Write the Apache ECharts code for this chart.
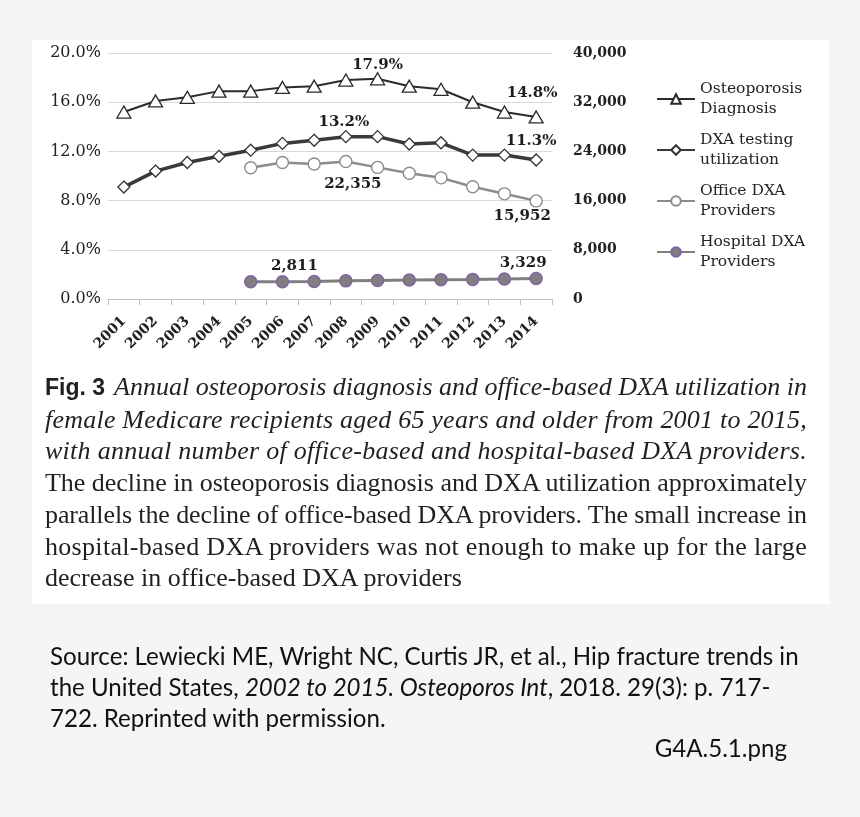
<!DOCTYPE html>
<html>
<head>
<meta charset="utf-8">
<script src="https://cdn.jsdelivr.net/npm/echarts@6/dist/echarts.min.js"></script>
<style>
  html, body { margin: 0; padding: 0; background: #f5f5f5; width: 860px; height: 817px; overflow: hidden; }
  #panel { position: absolute; left: 32px; top: 40px; width: 797px; height: 564px; background: #ffffff; }
  #chart { position: absolute; left: 0; top: 0; width: 860px; height: 817px; }
  #caption { position: absolute; left: 45px; top: 371px; width: 800px; font-family: "Liberation Serif", "Times New Roman", serif; font-size: 26px; line-height: 31.7px; color: #231f20; }
  #caption div { white-space: nowrap; }
  #caption div span.ln { display: inline-block; white-space: nowrap; }
  #caption .fig { font-family: "Liberation Sans", Arial, sans-serif; font-weight: bold; font-style: normal; font-size: 23px; margin-right: 9px; }
  #caption i { font-style: italic; }
  #source { position: absolute; left: 50px; top: 640px; font-family: Lato, "Open Sans", sans-serif; color: #111; line-height: 31px; }
  #source div { white-space: nowrap; }
  #fname { position: absolute; right: 73px; top: 733px; font-family: Lato, "Open Sans", sans-serif; color: #111; white-space: nowrap; }
</style>
</head>
<body>
<div id="panel"></div>
<div id="chart"></div>
<div id="caption">
  <div><span class="ln"><span class="fig">Fig. 3</span><i>Annual osteoporosis diagnosis and office-based DXA utilization in</i></span></div>
  <div><span class="ln"><i>female Medicare recipients aged 65 years and older from 2001 to 2015,</i></span></div>
  <div><span class="ln"><i>with annual number of office-based and hospital-based DXA providers.</i></span></div>
  <div><span class="ln">The decline in osteoporosis diagnosis and DXA utilization approximately</span></div>
  <div><span class="ln">parallels the decline of office-based DXA providers. The small increase in</span></div>
  <div><span class="ln">hospital-based DXA providers was not enough to make up for the large</span></div>
  <div class="last"><span class="ln">decrease in office-based DXA providers</span></div>
</div>
<div id="source">
  <div id="src1">Source: Lewiecki ME, Wright NC, Curtis JR, et al., Hip fracture trends in</div>
  <div>the United States, <i>2002 to 2015. Osteoporos Int</i>, 2018. 29(3): p. 717-</div>
  <div>722. Reprinted with permission.</div>
</div>
<div id="fname">G4A.5.1.png</div>
<script>
// ---------- data ----------
const years = ['2001','2002','2003','2004','2005','2006','2007','2008','2009','2010','2011','2012','2013','2014'];
const osteoporosisDiagnosis = [15.2, 16.1, 16.4, 16.9, 16.9, 17.2, 17.3, 17.8, 17.9, 17.3, 17.05, 16.0, 15.2, 14.8];
const dxaTesting = [9.1, 10.4, 11.1, 11.6, 12.1, 12.65, 12.9, 13.2, 13.2, 12.6, 12.7, 11.7, 11.7, 11.3];
const officeProviders = [null, null, null, null, 21350, 22200, 21950, 22355, 21400, 20450, 19700, 18250, 17100, 15952];
const hospitalProviders = [null, null, null, null, 2790, 2811, 2860, 2950, 3010, 3080, 3150, 3190, 3260, 3329];
const seriesNames = ['Osteoporosis Diagnosis', 'DXA testing utilization', 'Office DXA Providers', 'Hospital DXA Providers'];
const legendLabels = ['Osteoporosis\nDiagnosis', 'DXA testing\nutilization', 'Office DXA\nProviders', 'Hospital DXA\nProviders'];
const leftTicks = [0, 4, 8, 12, 16, 20];
const rightTicks = [0, 8000, 16000, 24000, 32000, 40000];

// label offsets for annotated points, keyed "series-yearIndex" (style only)
const labelOffsets = {
  '0-8': [0, -14], '0-13': [-4, -24], '1-7': [-2, -15], '1-13': [-5, -19],
  '2-7': [7, 23], '2-13': [-14, 15], '3-5': [12, -16], '3-13': [-13, -15]
};

const serifFont = 'DejaVu Serif';
const pctFmt = v => v.toFixed(1) + '%';
const numFmt = v => Math.round(v).toLocaleString('en-US');

function buildData(si, arr) {
  return arr.map((v, i) => {
    const key = si + '-' + i;
    if (v == null) return null;
    if (labelOffsets[key]) {
      return {
        value: v,
        label: {
          show: true, position: 'inside', offset: labelOffsets[key],
          formatter: si < 2 ? pctFmt(v) : numFmt(v),
          fontFamily: serifFont, fontWeight: 'bold', fontSize: 15, color: '#1e1e1e'
        }
      };
    }
    return v;
  });
}

const chart = echarts.init(document.getElementById('chart'), null, { renderer: 'canvas' });
const option = {
  backgroundColor: 'transparent',
  animation: false,
  grid: { left: 108, right: 308, top: 53, bottom: 518, containLabel: false },
  legend: {
    orient: 'vertical', left: 651, top: 64,
    itemWidth: 38, itemHeight: 12, itemGap: -9,
    data: seriesNames,
    formatter: name => legendLabels[seriesNames.indexOf(name)],
    textStyle: { fontFamily: serifFont, fontSize: 15.5, color: '#222', lineHeight: 20, padding: [20, 0, 0, 0] }
  },
  xAxis: {
    type: 'category', data: years, boundaryGap: true,
    axisLine: { show: true, lineStyle: { color: '#bfbfbf', width: 1 } },
    axisTick: { show: true, length: 6, lineStyle: { color: '#bfbfbf' } },
    axisLabel: { rotate: 45, margin: 20, fontFamily: serifFont, fontSize: 14, fontWeight: 'bold', color: '#222' }
  },
  yAxis: [
    {
      type: 'value', min: leftTicks[0], max: leftTicks[leftTicks.length - 1], interval: leftTicks[1] - leftTicks[0],
      axisLine: { show: false }, axisTick: { show: false },
      splitLine: { show: true, lineStyle: { color: '#d9d9d9', width: 1 } },
      axisLabel: { formatter: pctFmt, margin: 7, fontFamily: serifFont, fontSize: 16, color: '#222' }
    },
    {
      type: 'value', min: rightTicks[0], max: rightTicks[rightTicks.length - 1], interval: rightTicks[1] - rightTicks[0],
      axisLine: { show: false }, axisTick: { show: false }, splitLine: { show: false },
      axisLabel: { formatter: numFmt, margin: 21, fontFamily: serifFont, fontSize: 14, fontWeight: 'bold', color: '#222' }
    }
  ],
  series: [
    {
      name: seriesNames[0], type: 'line', yAxisIndex: 0, data: buildData(0, osteoporosisDiagnosis),
      symbol: 'triangle', symbolSize: [14, 12], showAllSymbol: true,
      lineStyle: { color: '#2b2b2b', width: 2 },
      itemStyle: { color: '#ffffff', borderColor: '#2b2b2b', borderWidth: 1.3 }
    },
    {
      name: seriesNames[1], type: 'line', yAxisIndex: 0, data: buildData(1, dxaTesting),
      symbol: 'diamond', symbolSize: 12, showAllSymbol: true,
      lineStyle: { color: '#3a3a3a', width: 3.5 },
      itemStyle: { color: '#ffffff', borderColor: '#333333', borderWidth: 1.3 }
    },
    {
      name: seriesNames[2], type: 'line', yAxisIndex: 1, data: buildData(2, officeProviders),
      symbol: 'circle', symbolSize: 12, showAllSymbol: true, connectNulls: false,
      lineStyle: { color: '#8c8c8c', width: 2.5 },
      itemStyle: { color: '#ffffff', borderColor: '#8c8c8c', borderWidth: 1.4 }
    },
    {
      name: seriesNames[3], type: 'line', yAxisIndex: 1, data: buildData(3, hospitalProviders),
      symbol: 'circle', symbolSize: 12, showAllSymbol: true, connectNulls: false,
      lineStyle: { color: '#7f7f7f', width: 3 },
      itemStyle: { color: '#7f7f7f', borderColor: '#8064a2', borderWidth: 1.5 }
    }
  ]
};
chart.setOption(option);

// fit caption lines to the justified width via letter spacing
function fitCaption() {
  const target = 762;
  document.querySelectorAll('#caption div').forEach(div => {
    if (div.classList.contains('last')) return;
    const span = div.querySelector('span.ln');
    span.style.letterSpacing = '0px';
    const w = span.getBoundingClientRect().width;
    const n = span.textContent.replace(/\s+/g, ' ').trim().length;
    span.style.letterSpacing = ((target - w) / n) + 'px';
  });
}
// fit source text font size so first line spans the reference width
function fitSource() {
  const c = document.createElement('canvas').getContext('2d');
  const txt = document.getElementById('src1').textContent;
  c.font = '100px Lato';
  const w = c.measureText(txt).width;
  const size = 750 / w * 100;
  document.getElementById('source').style.fontSize = size + 'px';
  document.getElementById('fname').style.fontSize = size + 'px';
}
fitCaption(); fitSource();
if (document.fonts && document.fonts.ready) document.fonts.ready.then(() => { fitCaption(); fitSource(); });
</script>
</body>
</html>
